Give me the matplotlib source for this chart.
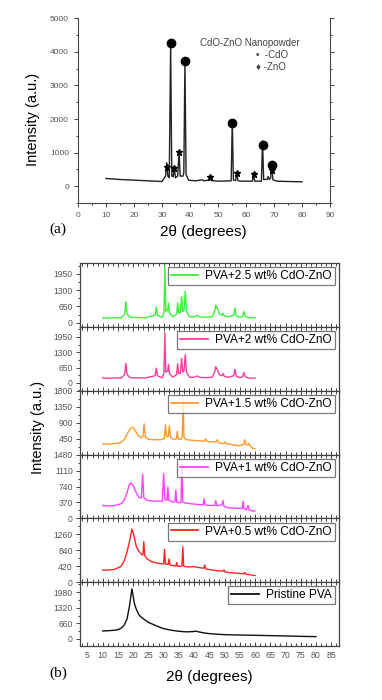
import matplotlib
matplotlib.use("Agg")
import matplotlib.pyplot as plt
from matplotlib.ticker import MultipleLocator, AutoMinorLocator

plt.rcParams['font.family'] = ['Liberation Sans', 'DejaVu Sans']

# ---- (a) CdO-ZnO nanopowder ----
powder_x = [10, 15, 20, 25, 30, 31.3, 31.7, 32.1, 32.6, 33.1, 33.5, 34.0, 34.4, 34.8, 35.6, 36.1, 36.5,
            37.5, 37.8, 38.2, 38.6, 39.5, 42, 44.4, 45, 46.8, 47.2, 47.6, 50, 54.7, 55.1, 55.5, 56.3,
            56.7, 57.1, 58, 62.3, 62.7, 63.1, 65.5, 65.9, 66.3, 67.5, 67.9, 68.3, 68.8, 69.2, 69.6,
            71, 75, 80]
powder_y = [230, 200, 180, 160, 140, 300, 700, 300, 250, 4250, 300, 280, 575, 250, 300, 1023, 300,
            300, 400, 3735, 350, 180, 160, 190, 160, 190, 290, 170, 150, 160, 1950, 180, 170,
            400, 170, 150, 150, 370, 150, 150, 1350, 200, 200, 290, 200, 250, 660, 190,
            150, 140, 130]

cdo_x = [33.1, 38.2, 55.1, 66.0, 69.2]
cdo_y = [4250, 3735, 1886, 1220, 620]
zno_x = [31.7, 34.4, 36.1, 47.2, 56.7, 62.7, 69.2]
zno_y = [560, 555, 1023, 280, 400, 357, 470]

# ---- (b) PVA films ----
x_25 = [10, 12, 14, 16, 17.2, 17.6, 18.0, 19, 21, 24, 27.2, 27.6, 28.0, 29.5, 30.1, 30.4, 30.7, 31.3,
        31.6, 31.9, 33, 34.3, 34.6, 34.9, 35.5, 35.9, 36.3, 36.7, 37.1, 37.5, 38.5, 40, 41, 42, 44,
        46, 46.8, 47.1, 47.6, 48.3, 49.2, 49.5, 49.9, 51, 53.0, 53.4, 53.8, 55, 55.9, 56.3, 56.8, 58, 60]
y_25 = [200, 190, 200, 190, 350, 850, 350, 220, 210, 200, 300, 630, 300, 210, 400, 2300, 450, 500,
        780, 400, 240, 350, 800, 400, 400, 1040, 450, 500, 1250, 450, 240, 230, 300, 230, 220,
        240, 500, 700, 600, 350, 300, 380, 280, 230, 300, 590, 280, 220, 250, 450, 250, 200, 200]

x_20 = x_25
y_20 = [205, 195, 205, 200, 350, 825, 350, 220, 210, 205, 300, 620, 300, 210, 400, 2125, 450, 500,
        780, 400, 240, 350, 810, 400, 400, 1030, 450, 500, 1195, 450, 240, 230, 290, 230, 220,
        240, 480, 685, 560, 340, 300, 395, 280, 230, 300, 575, 280, 220, 250, 435, 250, 200, 200]

x_15 = [10, 12, 14, 16, 17, 18, 19, 19.8, 20.5, 21.5, 22.5, 23.2, 23.6, 24.0, 25, 27, 29, 30.2, 30.6,
        31.0, 31.5, 31.9, 32.3, 33.5, 34.2, 34.5, 34.8, 35.5, 36.1, 36.4, 36.7, 37.5, 40, 43.3, 43.8,
        44.3, 46, 47.2, 47.6, 48.2, 49.7, 50.1, 50.6, 52, 53.3, 53.6, 54, 55.5, 56.3, 56.6, 57.0,
        57.7, 58.0, 58.4, 59.2, 60]
y_15 = [300, 300, 310, 340, 420, 580, 720, 770, 700, 560, 480, 500, 870, 500, 430, 420, 420, 450, 840,
        500, 500, 815, 480, 420, 450, 655, 430, 430, 480, 1520, 480, 420, 400, 380, 440,
        370, 360, 360, 420, 330, 310, 355, 300, 300, 260, 280, 250, 260, 300, 420, 280,
        270, 310, 250, 180, 160]

x_10 = [10, 12, 14, 16, 17, 18, 18.7, 19.3, 20, 21, 22, 22.7, 23.1, 23.5, 24.5, 27, 29.6, 30.0, 30.4,
        31.1, 31.4, 31.7, 33, 33.7, 34.0, 34.3, 35.2, 35.7, 36.0, 36.3, 37, 39, 42, 43.0, 43.3, 43.6,
        45, 46.8, 47.1, 47.4, 48.5, 49.2, 49.5, 49.8, 51, 53, 55.8, 56.1, 56.4, 57.2, 57.7, 58.1, 59, 60]
y_10 = [300, 290, 300, 340, 420, 600, 780, 825, 760, 600, 480, 480, 1030, 480, 420, 400, 400, 1040, 450,
        420, 730, 420, 380, 380, 650, 380, 360, 380, 1260, 380, 360, 340, 320, 320, 460, 310,
        300, 300, 415, 300, 300, 330, 415, 280, 250, 240, 230, 400, 220, 200, 300, 190, 180, 170]

x_05 = [10, 12, 14, 16, 17, 18, 19, 19.6, 20.2, 21, 21.8, 22.9, 23.2, 23.5, 23.8, 24.5, 26, 28, 30.0,
        30.3, 30.6, 31.5, 31.8, 32.1, 33, 34.0, 34.3, 34.6, 35.5, 36.0, 36.3, 36.6, 38, 40, 42, 43.2,
        43.5, 43.8, 46, 48, 49.5, 49.8, 50.2, 52, 55, 56.3, 56.6, 57, 58, 60]
y_05 = [320, 320, 340, 420, 550, 800, 1150, 1400, 1250, 950, 820, 720, 720, 1067, 700, 620, 543, 500, 480,
        866, 480, 470, 612, 450, 440, 430, 516, 420, 420, 430, 936, 420, 400, 410, 380, 370,
        455, 350, 320, 300, 290, 324, 270, 250, 230, 220, 260, 210, 200, 175]

x_00 = [10, 12, 14, 15, 16, 17, 18, 18.8, 19.3, 19.6, 19.9, 20.4, 21, 22, 23, 25, 27.5, 30, 32.5, 35,
        37.5, 39.5, 40.5, 41.5, 43, 45, 47.5, 50, 55, 60, 65, 70, 75, 80]
y_00 = [337, 350, 370, 393, 450, 575, 850, 1400, 1850, 2120, 1900, 1500, 1263, 1000, 884, 700, 560, 435,
        370, 323, 300, 310, 330, 300, 260, 225, 200, 182, 165, 154, 140, 126, 110, 98]

labels = ['PVA+2.5 wt% CdO-ZnO', 'PVA+2 wt% CdO-ZnO', 'PVA+1.5 wt% CdO-ZnO',
          'PVA+1 wt% CdO-ZnO', 'PVA+0.5 wt% CdO-ZnO', 'Pristine PVA']
colors = ['#3cf03c', '#ff3c9c', '#ff9a30', '#ff40ff', '#ff2424', '#111111']
yticks = [[0, 650, 1300, 1950], [0, 650, 1300, 1950], [450, 900, 1350, 1800],
          [0, 370, 740, 1110, 1480], [0, 420, 840, 1260], [0, 660, 1320, 1980]]
ylims = [(-170, 2380), (-340, 2370), (0, 1800), (0, 1480), (0, 1680), (-300, 2400)]

series = [(x_25, y_25), (x_20, y_20), (x_15, y_15), (x_10, y_10), (x_05, y_05), (x_00, y_00)]

axis_col = '#444444'
tick_col = '#555555'

fig = plt.figure(figsize=(3.82, 7.0), dpi=100)

# ---- panel (a) ----
ax = fig.add_axes([0.204, 0.710, 0.660, 0.264])
ax.plot(powder_x, powder_y, color='#222222', lw=1.0)
ax.plot(cdo_x, cdo_y, 'o', color='black', ms=6)
ax.plot(zno_x, zno_y, '*', color='black', ms=5)
ax.set_xlim(0, 90)
ax.set_ylim(-500, 5000)
ax.xaxis.set_major_locator(MultipleLocator(10))
ax.xaxis.set_minor_locator(MultipleLocator(5))
ax.yaxis.set_major_locator(MultipleLocator(1000))
ax.yaxis.set_minor_locator(MultipleLocator(500))
ax.spines['top'].set_visible(False)
for s in ['left', 'bottom', 'right']:
    ax.spines[s].set_color(axis_col)
    ax.spines[s].set_linewidth(0.8)
ax.tick_params(which='both', direction='out', colors=axis_col, labelcolor=tick_col,
               labelsize=6, width=0.7)
ax.tick_params(which='major', length=3)
ax.tick_params(which='minor', length=1.5)
ax.tick_params(axis='y', which='both', right=True)
ax.text(0.68, 0.85, 'CdO-ZnO Nanopowder', transform=ax.transAxes, ha='center',
        fontsize=7, color='#444444')
ax.text(0.705, 0.785, '•  -CdO', transform=ax.transAxes, ha='left', fontsize=7, color='#444444')
ax.text(0.705, 0.72, '♦ -ZnO', transform=ax.transAxes, ha='left', fontsize=7, color='#444444')
fig.text(0.086, 0.829, 'Intensity (a.u.)', rotation=90, ha='center', va='center', fontsize=10.5)
fig.text(0.531, 0.668, '2θ (degrees)', ha='center', va='center', fontsize=11)
fig.text(0.152, 0.673, '(a)', ha='center', va='center', fontsize=11, family='Liberation Serif')

# ---- panel (b) ----
b_left, b_width = 0.209, 0.678
b_bottom, b_top = 0.0771, 0.624
h = (b_top - b_bottom) / 6
for i, ((xs, ys), lab, col) in enumerate(zip(series, labels, colors)):
    a = fig.add_axes([b_left, b_top - (i + 1) * h, b_width, h])
    a.plot(xs, ys, color=col, lw=1.0, label=lab)
    a.set_xlim(2.5, 87.5)
    a.set_ylim(*ylims[i])
    a.set_yticks(yticks[i])
    a.xaxis.set_major_locator(MultipleLocator(5))
    a.xaxis.set_minor_locator(AutoMinorLocator(3))
    a.yaxis.set_minor_locator(AutoMinorLocator(2))
    for s in a.spines.values():
        s.set_color(axis_col)
        s.set_linewidth(0.9)
    a.tick_params(axis='x', which='both', direction='in', top=True, bottom=True,
                  colors=axis_col, labelcolor=tick_col, labelsize=6.3, width=0.7)
    a.tick_params(axis='x', which='major', length=3)
    a.tick_params(axis='x', which='minor', length=2)
    a.tick_params(axis='y', which='both', direction='out', colors=axis_col,
                  labelcolor=tick_col, labelsize=6.2, width=0.7, pad=2)
    a.tick_params(axis='y', which='major', length=3)
    a.tick_params(axis='y', which='minor', length=1.5)
    if i < 5:
        a.tick_params(axis='x', labelbottom=False)
    leg = a.legend(loc='upper right', fontsize=8.6, frameon=True, fancybox=False,
                   borderaxespad=0.35, borderpad=0.25, handletextpad=0.6, handlelength=2.3)
    leg.get_frame().set_edgecolor('#555555')
    leg.get_frame().set_linewidth(0.9)
    for ln in leg.get_lines():
        ln.set_linewidth(1.3)

fig.text(0.1, 0.39, 'Intensity (a.u.)', rotation=90, ha='center', va='center', fontsize=10.5)
fig.text(0.547, 0.033, '2θ (degrees)', ha='center', va='center', fontsize=11)
fig.text(0.152, 0.038, '(b)', ha='center', va='center', fontsize=11, family='Liberation Serif')

fig.savefig('out.png', dpi=100)
